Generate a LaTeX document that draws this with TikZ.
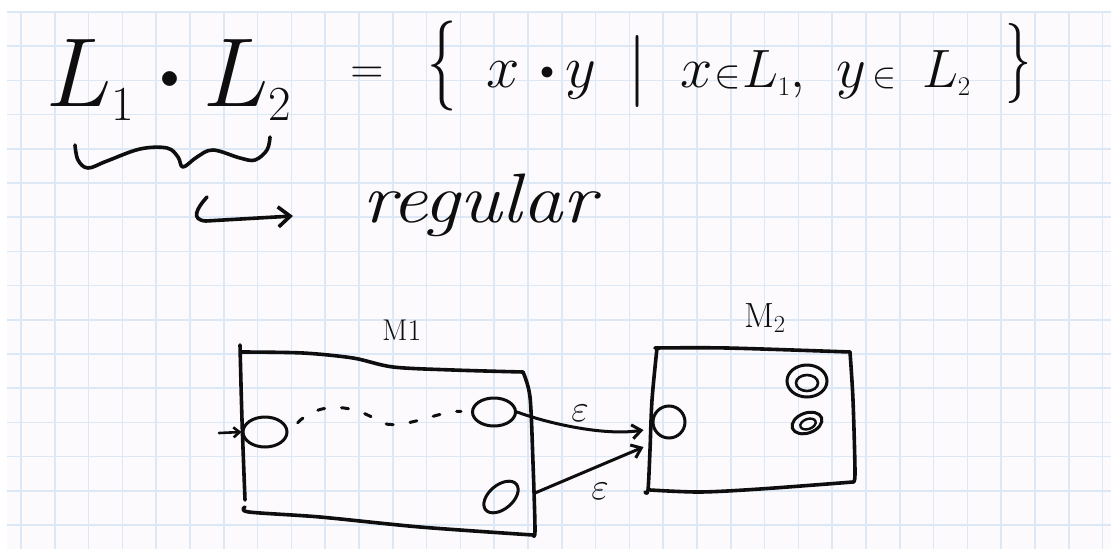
\RequirePackage{fix-cm}
\documentclass[tikz,border=0pt]{standalone}
\usepackage{graphicx}
\usetikzlibrary{arrows.meta,shapes.geometric}
\definecolor{paper}{RGB}{252,250,252}
\definecolor{gridc}{RGB}{221,232,246}
\definecolor{ink}{RGB}{14,14,14}
\newcommand{\myfs}[1]{\fontsize{#1}{#1}\selectfont}
\begin{document}
\begin{tikzpicture}[x=1pt,y=-1pt,
  ink/.style={draw=ink, line width=3.6pt, line cap=round, line join=round},
  txt/.style={inner sep=0pt, outer sep=0pt, text=ink},
  st/.style={ellipse, draw=ink, line width=3pt, inner sep=0pt},
  trans/.style={ink, line width=3pt, -{Straight Barb[length=9pt,width=14pt]}}]
\useasboundingbox (0,0) rectangle (1111,549);
\fill[white] (0,0) rectangle (1111,549);
\fill[paper] (7,12) rectangle (1111,549);
\foreach \k in {0,...,32} \draw[gridc, line width=1.6pt] ({21+33.8*\k},12) -- ({21+33.8*\k},549);
\foreach \k in {0,...,15} \draw[gridc, line width=1.6pt] (7,{12+34.2*\k}) -- (1111,{12+34.2*\k});

% formula
\node[txt, anchor=base west, font=\myfs{98}] (l1) at (46,106) {$L_{\scriptscriptstyle 1}$};
\node[txt, font=\myfs{38}] (d1) at (170,80) {$\bullet$};
\node[txt, anchor=base west, font=\myfs{98}] (l2) at (203,106) {$L_{\scriptscriptstyle 2}$};
\node[txt, anchor=base, font=\myfs{46}] (eq) at (367,83) {$=$};
\node[txt, anchor=base, font=\myfs{90}] (lbr) at (442,88) {\scalebox{0.65}[1]{$\{$}};
\node[txt, anchor=base west, font=\myfs{60}] (sx) at (486,87) {$x$};
\node[txt, font=\myfs{28}] (d2) at (547,73) {$\bullet$};
\node[txt, anchor=base west, font=\myfs{60}] (sy) at (565,87) {$y$};
\node[txt, anchor=base, font=\myfs{72}] (bar) at (637,89) {$|$};
\node[txt, anchor=base west, font=\myfs{58}] (ex) at (680,87) {$x$};
\node[txt, anchor=base west, font=\myfs{40}] (in1) at (714,87) {$\in$};
\node[txt, anchor=base west, font=\myfs{54}] (el1) at (742,87) {$L_{\scriptscriptstyle 1},$};
\node[txt, anchor=base west, font=\myfs{58}] (ey) at (836,87) {$y$};
\node[txt, anchor=base west, font=\myfs{36}] (in2) at (872,87) {$\in$};
\node[txt, anchor=base west, font=\myfs{54}] (el2) at (922,87) {$L_{\scriptscriptstyle 2}$};
\node[txt, anchor=base, font=\myfs{80}] (rbr) at (1018,83) {\scalebox{0.65}[1]{$\}$}};

% brace and hook arrow
\draw[ink] plot[smooth, tension=0.6] coordinates {(75,145) (78,160) (88,168) (107,161) (140,149) (167,148) (178,157) (183,167) (197,157) (213,150) (240,158) (255,160) (267,150) (270,137)};
\node[txt, anchor=base west, font=\myfs{70}\itshape] (reg) at (362,222) {\scalebox{1.15}[1]{regular}};
\coordinate (hk1) at (207,197);
\coordinate (hk2) at (293,216);
\draw[ink, -{Straight Barb[length=12pt,width=20pt]}] (hk1) .. controls (197,208) and (190,220) .. (206,221) -- (hk2);

% M1
\node[txt, anchor=base west, font=\myfs{30}] (m1) at (382,340) {M1};
\draw[ink] plot[smooth, tension=0.5] coordinates {(240,345) (242,420) (245,500)};
\draw[ink] plot[smooth, tension=0.5] coordinates {(242,352) (303,353) (353,358) (393,367) (453,370) (523,372)};
\draw[ink] plot[smooth, tension=0.5] coordinates {(523,372) (530,397) (533,463) (535,530) (533,535)};
\draw[ink] plot[smooth, tension=0.5] coordinates {(245,507) (249,512) (320,517) (420,527) (533,535)};

\node[st, minimum width=44pt, minimum height=30pt] (s0) at (265,432) {};
\node[st, minimum width=43pt, minimum height=28pt] (s1) at (494,412) {};
\node[st, minimum width=40pt, minimum height=24pt, rotate=40] (s2) at (501,497) {};
\coordinate (ini) at (219,433);
\draw[ink, line width=2.6pt, -{Straight Barb[length=6pt,width=10pt]}] (ini) -- (s0.west);
\draw[ink, line width=3pt, dash pattern=on 7pt off 17pt, shorten <=13pt, shorten >=10pt] (s0.east) .. controls (320,400) and (355,405) .. (380,422) .. controls (400,432) and (440,410) .. (s1.west);

% M2
\node[txt, anchor=base west, font=\myfs{35}] (m2) at (744,327) {M$_2$};
\draw[ink] plot[smooth, tension=0.5] coordinates {(655,348) (727,348) (850,352)};
\draw[ink] plot[smooth, tension=0.5] coordinates {(657,348) (652,400) (650,450) (648,490) (645,492)};
\draw[ink] plot[smooth, tension=0.5] coordinates {(650,490) (700,492) (760,489) (853,482)};
\draw[ink] plot[smooth, tension=0.5] coordinates {(850,352) (853,400) (855,473) (853,482)};

\node[st, circle, minimum size=32pt] (t0) at (669,422) {};
\node[st, minimum width=40pt, minimum height=32pt] (f1) at (807,381) {};
\node[st, minimum width=22pt, minimum height=16pt, line width=2.6pt] (f1i) at (807,383) {};
\node[st, minimum width=31pt, minimum height=20pt, rotate=20] (f2) at (807,423) {};
\node[st, minimum width=16pt, minimum height=10pt, rotate=20, line width=2.4pt] (f2i) at (808,424) {};

% epsilon transitions
\draw[trans] (s1.east) .. controls (550,424) and (605,436) .. ([shift={(-8pt,-8pt)}]t0.west);
\draw[trans] ([shift={(34pt,4pt)}]s2.center) -- ([shift={(-8pt,-25pt)}]t0.west);
\node[txt, font=\myfs{38}] (e1) at (580,413) {$\varepsilon$};
\node[txt, font=\myfs{38}] (e2) at (600,491) {$\varepsilon$};
\end{tikzpicture}
\end{document}
